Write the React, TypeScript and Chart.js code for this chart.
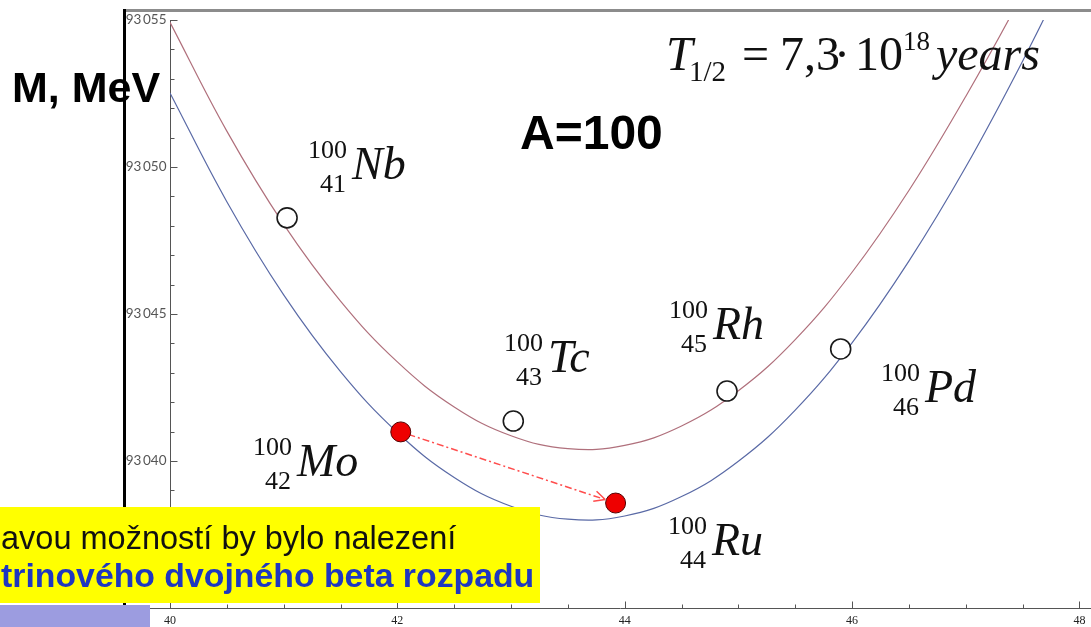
import React, { useEffect, useRef } from "react";
import { Chart, registerables } from "chart.js";

Chart.register(...registerables);

// Proton number Z sampled along both mass parabolas (isobars A = 100)
const protonGrid = [40, 40.5, 41, 41.5, 42, 42.5, 43, 43.5, 44, 44.5, 45, 45.5, 46, 46.5, 47, 47.5, 48];
// Atomic mass in MeV, odd-odd nuclei (upper parabola)
const oddOddMass = [
  93054.92, 93051.22, 93048.05, 93045.44, 93043.37, 93041.84, 93040.86, 93040.42, 93040.53,
  93041.19, 93042.39, 93044.13, 93046.42, 93049.2, 93052.4, 93055.9, 93059.8,
];
// Atomic mass in MeV, even-even nuclei (lower parabola)
const evenEvenMass = [
  93052.52, 93048.82, 93045.65, 93043.04, 93040.97, 93039.44, 93038.46, 93038.02, 93038.13,
  93038.79, 93039.99, 93041.73, 93044.02, 93046.8, 93050.0, 93053.6, 93057.5,
];

// Nuclei shown as open circles: Nb, Tc, Rh, Pd
const openNucleiZ = [41.03, 43.02, 44.9, 45.9];
const openNucleiMass = [93048.27, 93041.36, 93042.38, 93043.81];
// Double beta decay pair: Mo -> Ru
const decayNucleiZ = [42.03, 43.92];
const decayNucleiMass = [93040.99, 93038.57];

const isotopeSymbols = ["Nb", "Mo", "Tc", "Ru", "Rh", "Pd"];
const isotopeNumbers = ["41", "42", "43", "44", "45", "46"];
const massNumber = "100";

const xMajorTicks = [40, 42, 44, 46, 48];
const xTickLabels = ["40", "42", "44", "46", "48"];
const yMajorTicks = [93040, 93045, 93050, 93055];
const yTickLabels = ["93\u2009040", "93\u2009045", "93\u2009050", "93\u2009055"];

const SERIF = "'Liberation Serif', 'Times New Roman', serif";
const SANS = "'Liberation Sans', Arial, sans-serif";

// where each isotope symbol starts (left edge, baseline)
const isotopeAnchors: [number, number][] = [
  [352, 179],
  [297, 476],
  [548, 372],
  [712, 555],
  [713, 339],
  [925, 402],
];

function drawIsotope(ctx: CanvasRenderingContext2D, x: number, y: number, sym: string, z: string) {
  ctx.fillStyle = "#111";
  ctx.textBaseline = "alphabetic";
  ctx.font = `26px ${SERIF}`;
  ctx.textAlign = "right";
  ctx.fillText(massNumber, x - 5, y - 21);
  ctx.fillText(z, x - 6, y + 13);
  ctx.textAlign = "left";
  ctx.font = `italic 46px ${SERIF}`;
  ctx.fillText(sym, x, y);
}

const slideOverlay = {
  id: "slideOverlay",
  beforeDatasetsDraw(chart: any) {
    const ctx: CanvasRenderingContext2D = chart.ctx;
    const xs = chart.scales.x;
    const ys = chart.scales.y;
    const area = chart.chartArea;
    ctx.save();

    // axes
    ctx.strokeStyle = "#555";
    ctx.lineWidth = 1;
    const axisX = Math.round(xs.getPixelForValue(xs.min)) + 0.5;
    const axisY = Math.round(ys.getPixelForValue(ys.min)) + 0.5;
    ctx.beginPath();
    ctx.moveTo(axisX, area.top);
    ctx.lineTo(axisX, axisY);
    ctx.moveTo(150, axisY);
    ctx.lineTo(chart.width, axisY);
    ctx.stroke();

    // x ticks every 0.5, inward
    ctx.beginPath();
    for (let v = xs.min; v <= xs.max + 1e-9; v += 0.5) {
      const px = Math.round(xs.getPixelForValue(v)) + 0.5;
      const major = xMajorTicks.includes(v);
      ctx.moveTo(px, axisY);
      ctx.lineTo(px, axisY - (major ? 7 : 4));
    }
    // y ticks every 1, inward
    for (let v = ys.min; v <= ys.max + 1e-9; v += 1) {
      const py = Math.round(ys.getPixelForValue(v)) + 0.5;
      const major = yMajorTicks.includes(v);
      ctx.moveTo(axisX, py);
      ctx.lineTo(axisX + (major ? 7 : 4), py);
    }
    ctx.stroke();

    ctx.fillStyle = "#222";
    ctx.font = `12px ${SERIF}`;
    ctx.textAlign = "center";
    ctx.textBaseline = "alphabetic";
    xMajorTicks.forEach((v, i) => {
      ctx.fillText(xTickLabels[i], xs.getPixelForValue(v), axisY + 15);
    });
    ctx.fillStyle = "#555";
    ctx.font = `13.5px Lato, ${SANS}`;
    ctx.textAlign = "right";
    ctx.textBaseline = "middle";
    yMajorTicks.forEach((v, i) => {
      ctx.fillText(yTickLabels[i], axisX - 4, ys.getPixelForValue(v));
    });

    // dash-dot arrow of the double beta transition
    const x0 = xs.getPixelForValue(decayNucleiZ[0]);
    const y0 = ys.getPixelForValue(decayNucleiMass[0]);
    const x1 = xs.getPixelForValue(decayNucleiZ[1]);
    const y1 = ys.getPixelForValue(decayNucleiMass[1]);
    const len = Math.hypot(x1 - x0, y1 - y0);
    const ux = (x1 - x0) / len;
    const uy = (y1 - y0) / len;
    const tipX = x1 - ux * 11;
    const tipY = y1 - uy * 11;
    ctx.strokeStyle = "#ff4d4d";
    ctx.lineWidth = 1.5;
    ctx.setLineDash([7, 3, 2, 3]);
    ctx.beginPath();
    ctx.moveTo(x0 + ux * 8, y0 + uy * 8);
    ctx.lineTo(tipX, tipY);
    ctx.stroke();
    ctx.setLineDash([]);
    const ang = Math.atan2(uy, ux);
    ctx.beginPath();
    for (const s of [-1, 1]) {
      const a = ang + Math.PI - s * 0.45;
      ctx.moveTo(tipX, tipY);
      ctx.lineTo(tipX + Math.cos(a) * 12, tipY + Math.sin(a) * 12);
    }
    ctx.stroke();
    ctx.restore();
  },
  afterDraw(chart: any) {
    const ctx: CanvasRenderingContext2D = chart.ctx;
    ctx.save();

    // slide frame
    ctx.fillStyle = "#8c8c8c";
    ctx.fillRect(123, 9, chart.width - 123, 3);
    ctx.fillStyle = "#000";
    ctx.fillRect(123, 9, 3, chart.height - 9);

    // isotope labels
    isotopeSymbols.forEach((s, i) => {
      const [ax, ay] = isotopeAnchors[i];
      drawIsotope(ctx, ax, ay, s, isotopeNumbers[i]);
    });

    // half-life formula
    ctx.fillStyle = "#111";
    ctx.textAlign = "left";
    ctx.textBaseline = "alphabetic";
    ctx.font = `italic 48px ${SERIF}`;
    ctx.fillText("T", 666, 70);
    ctx.font = `29px ${SERIF}`;
    ctx.fillText("1/2", 689, 81);
    ctx.font = `48px ${SERIF}`;
    ctx.fillText("=", 742, 70);
    ctx.fillText("7,3", 780, 70);
    ctx.fillText("\u00b7", 834, 70);
    ctx.fillText("10", 855, 70);
    ctx.font = `27px ${SERIF}`;
    ctx.fillText("18", 903, 50);
    ctx.font = `italic 48px ${SERIF}`;
    ctx.fillText("years", 936, 70);

    // titles
    ctx.fillStyle = "#000";
    ctx.font = `bold 48px ${SANS}`;
    ctx.fillText("A=100", 520, 149);
    ctx.font = `bold 43px ${SANS}`;
    ctx.fillText("M, MeV", 12, 102);

    // highlighted note
    ctx.fillStyle = "#ffff00";
    ctx.fillRect(0, 507, 540, 96);
    ctx.fillStyle = "#111";
    ctx.font = `32.5px ${SANS}`;
    ctx.fillText("avou možností by bylo nalezení", 1, 549);
    ctx.fillStyle = "#1f37c0";
    ctx.font = `bold 33.8px ${SANS}`;
    ctx.fillText("trinového dvojného beta rozpadu", 1, 587);

    ctx.fillStyle = "#9c9ce0";
    ctx.fillRect(0, 605, 150, chart.height - 605);
    ctx.restore();
  },
};

export default function App() {
  const canvasRef = useRef<HTMLCanvasElement | null>(null);

  useEffect(() => {
    if (!canvasRef.current) return;
    const chart = new Chart(canvasRef.current, {
      type: "scatter",
      data: {
        datasets: [
          {
            label: "open",
            data: openNucleiZ.map((x, i) => ({ x, y: openNucleiMass[i] })),
            pointRadius: 10,
            pointBackgroundColor: "#ffffff",
            pointBorderColor: "#1a1a1a",
            pointBorderWidth: 1.6,
            showLine: false,
            order: 0,
          },
          {
            label: "decay",
            data: decayNucleiZ.map((x, i) => ({ x, y: decayNucleiMass[i] })),
            pointRadius: 10,
            pointBackgroundColor: "#ee0000",
            pointBorderColor: "#550000",
            pointBorderWidth: 1,
            showLine: false,
            order: 0,
          },
          {
            label: "odd-odd",
            data: protonGrid.map((x, i) => ({ x, y: oddOddMass[i] })),
            showLine: true,
            pointRadius: 0,
            borderColor: "#b0707c",
            borderWidth: 1.2,
            tension: 0.4,
            order: 1,
          },
          {
            label: "even-even",
            data: protonGrid.map((x, i) => ({ x, y: evenEvenMass[i] })),
            showLine: true,
            pointRadius: 0,
            borderColor: "#5a6aa6",
            borderWidth: 1.2,
            tension: 0.4,
            order: 1,
          },
        ],
      },
      options: {
        animation: false,
        responsive: false,
        devicePixelRatio: 1,
        layout: { padding: { left: 170, right: 6, top: 20, bottom: 19 } },
        plugins: { legend: { display: false }, tooltip: { enabled: false } },
        scales: {
          x: { type: "linear", min: 40, max: 48, display: false },
          y: { type: "linear", min: 93035, max: 93055, display: false },
        },
      },
      plugins: [slideOverlay],
    });
    return () => chart.destroy();
  }, []);

  return (
    <div style={{ position: "fixed", left: 0, top: 0, width: 1091, height: 627, background: "#fff" }}>
      <canvas ref={canvasRef} width={1091} height={627} style={{ display: "block" }} />
    </div>
  );
}
